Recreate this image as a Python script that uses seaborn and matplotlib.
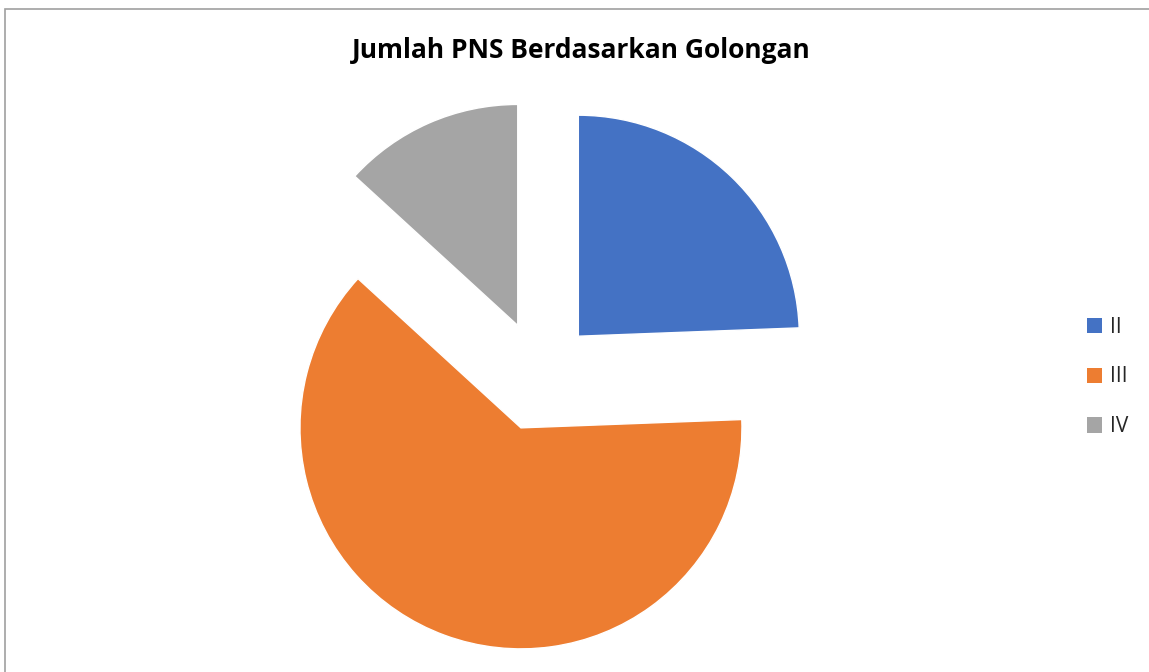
import matplotlib
matplotlib.use("Agg")
import matplotlib.pyplot as plt
import seaborn as sns
from matplotlib.patches import Rectangle, Patch

sns.set_theme(style="white")
plt.rcParams["font.family"] = ["Open Sans", "DejaVu Sans"]

golongan = ["II", "III", "IV"]
jumlah = [24.4, 62.4, 13.2]
warna = ["#4472C4", "#ED7D31", "#A5A5A5"]

W, H = 1149, 672
fig = plt.figure(figsize=(W / 100, H / 100), dpi=100)

# pie centred at pixel (540, 376), radius 221 px
cx, cy, half = 540, 376, 300
ax = fig.add_axes([(cx - half) / W, (H - cy - half) / H, 2 * half / W, 2 * half / H])
ax.pie(jumlah, colors=warna, startangle=90, counterclock=False,
       explode=[0.25] * 3, radius=1)
lim = half / 221
ax.set_xlim(-lim, lim)
ax.set_ylim(-lim, lim)
ax.set_aspect("equal")
ax.axis("off")

fig.text(581 / W, 1 - 50 / H, "Jumlah PNS Berdasarkan Golongan",
         ha="center", va="center", fontsize=19, fontweight="bold", color="black")

handles = [Patch(facecolor=c, edgecolor="none") for c in warna]
fig.legend(handles, golongan, loc="center left", bbox_to_anchor=(1068 / W, 1 - 377 / H),
           frameon=False, fontsize=15, handlelength=0.75, handleheight=0.75,
           handletextpad=0.35, labelspacing=1.38)

# chart frame
fig.patches.append(Rectangle((5 / W, -0.1), 1.2, 1 - 9 / H + 0.1, transform=fig.transFigure,
                             fill=False, edgecolor="#A0A0A0", linewidth=1.2))

fig.savefig("out.png", dpi=100)
